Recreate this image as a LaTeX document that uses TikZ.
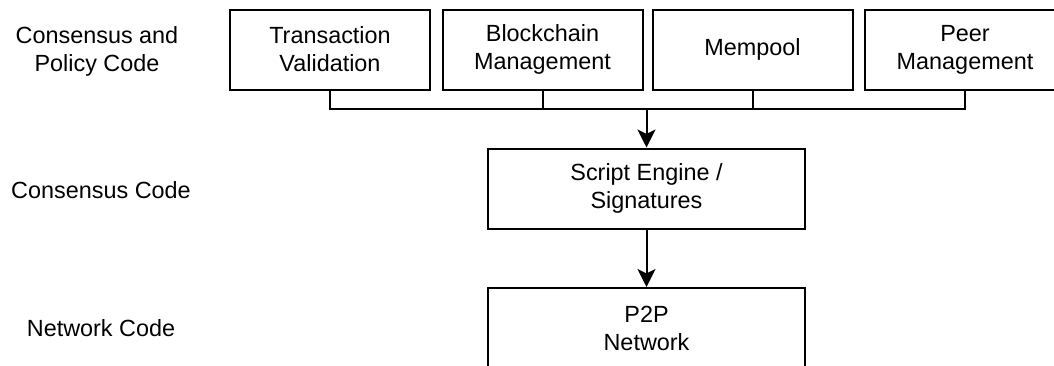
\documentclass[tikz,border=0pt]{standalone}
\usepackage{fontspec}
\setmainfont{Liberation Sans}
\usepackage{tikz}
\usetikzlibrary{arrows.meta}
\tikzset{layer box/.style={
    draw, line width=1pt, align=center, inner sep=0pt,
    minimum width=100pt, minimum height=40pt
}}
\tikzset{layer label/.style={align=center, inner sep=0pt}}
\tikzset{down arrow/.style={
    line width=1pt, -{Stealth[length=9pt, width=9pt, inset=2.2pt]}
}}

\begin{document}
\begin{tikzpicture}[x=0.5pt, y=-0.5pt, font=\fontsize{11.7}{14}\selectfont]

\clip (0,0) rectangle (1054,365);

%labels
\node[layer label] (lcp) at (97,51) {Consensus and\\Policy Code};
\node[layer label] (lc) at (101,190) {Consensus Code};
\node[layer label] (ln) at (101,328) {Network Code};

%0
\node[layer box] (tv) at (330,49.5) {Transaction\\Validation};
\node[layer box] (bm) at (542.5,49.5) {Blockchain\\Management};
\node[layer box] (mp) at (752.5,49.5) {Mempool};
\node[layer box] (pm) at (965,49.5) {Peer\\Management};

%1
\node[layer box, minimum width=158.5pt] (se) at (646.5,188.5) {Script Engine /\\Signatures};

%2
\node[layer box, minimum width=158.5pt] (pp) at (646.5,328) {P2P\\Network};

\coordinate (bus) at (se.north |- 0,109);
\draw[line width=1pt] (tv.south) |- (bus -| pm.south) -- (pm.south);
\draw[line width=1pt] (bm.south) -- (bm.south |- bus);
\draw[line width=1pt] (mp.south) -- (mp.south |- bus);
\draw[down arrow] (bus) -- (se.north);
\draw[down arrow] (se.south) -- (pp.north);

\end{tikzpicture}
\end{document}
